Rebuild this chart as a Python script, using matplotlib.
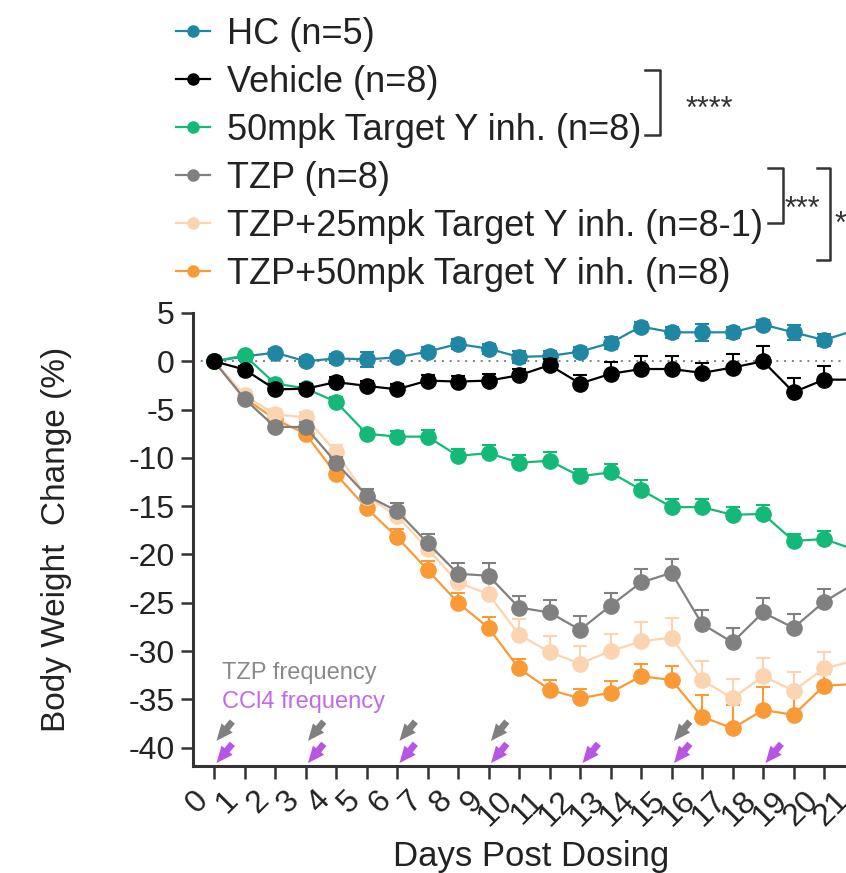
import numpy as np
import matplotlib
matplotlib.use("Agg")
import matplotlib.pyplot as plt
from matplotlib.lines import Line2D

plt.rcParams['font.family'] = ['Liberation Sans', 'DejaVu Sans']
plt.rcParams['axes.unicode_minus'] = False

# data: mean body weight change (%) and SEM per day
days = list(range(22))
hc = [0, 0.5, 0.9, 0.0, 0.3, 0.2, 0.4, 1.0, 1.8, 1.3, 0.45, 0.55, 1.0, 1.9, 3.6, 3.0, 3.0, 3.0, 3.8, 3.0, 2.2, 3.2]
vehicle = [0, -0.85, -2.9, -2.85, -2.15, -2.55, -2.9, -2.0, -2.1, -2.0, -1.45, -0.4, -2.3, -1.3, -0.8, -0.8, -1.2, -0.65, 0.0, -3.2, -1.9, -1.9]
inh50 = [0, 0.6, -2.3, -2.8, -4.2, -7.5, -7.8, -7.8, -9.8, -9.5, -10.5, -10.3, -11.9, -11.5, -13.3, -15.1, -15.1, -15.9, -15.8, -18.6, -18.4, -19.5]
tzp = [0, -3.9, -6.8, -6.8, -10.5, -13.9, -15.5, -18.8, -22.0, -22.2, -25.5, -26.0, -27.8, -25.3, -22.9, -21.9, -27.2, -29.1, -26.0, -27.6, -24.9, -23.0]
tzp_inh25 = [0, -3.5, -5.5, -5.8, -9.4, -14.0, -16.0, -19.4, -22.9, -24.1, -28.3, -30.1, -31.3, -30.0, -29.0, -28.6, -33.0, -34.9, -32.6, -34.1, -31.8, -31.0]
tzp_inh50 = [0, -3.8, -6.0, -7.5, -11.7, -15.2, -18.2, -21.6, -25.0, -27.6, -31.8, -34.0, -34.9, -34.3, -32.6, -33.0, -36.8, -38.0, -36.1, -36.6, -33.6, -33.4]

hc_sem = [0, 0.3, 0.4, 0.4, 0.5, 0.8, 0.4, 0.5, 0.5, 0.5, 0.6, 0.5, 0.5, 0.6, 0.5, 0.6, 0.9, 0.6, 0.5, 0.8, 0.6, 0.6]
vehicle_sem = [0, 0.4, 0.5, 0.5, 0.5, 0.5, 0.5, 0.6, 0.6, 0.7, 0.7, 0.6, 0.9, 1.2, 1.3, 1.3, 1.0, 1.4, 1.6, 1.5, 1.4, 1.4]
inh50_sem = [0, 0.3, 0.4, 0.4, 0.5, 0.5, 0.6, 0.7, 0.7, 0.8, 0.8, 0.9, 0.8, 0.9, 1.0, 0.8, 0.8, 0.8, 0.9, 0.7, 0.8, 0.8]
tzp_sem = [0, 0.4, 0.5, 0.5, 0.6, 0.7, 0.8, 0.9, 1.1, 1.3, 1.2, 1.3, 1.4, 1.3, 1.4, 1.4, 1.4, 1.5, 1.5, 1.4, 1.3, 1.3]
tzp_inh25_sem = [0, 0.5, 0.6, 0.6, 0.7, 0.8, 0.9, 1.0, 1.2, 1.4, 1.6, 1.7, 1.8, 1.8, 2.0, 2.0, 2.0, 2.0, 1.9, 1.9, 1.7, 1.7]
tzp_inh50_sem = [0, 0.4, 0.5, 0.6, 0.7, 0.8, 0.8, 0.9, 1.0, 1.1, 1.0, 1.0, 1.0, 1.2, 1.3, 1.5, 2.2, 2.4, 2.4, 2.3, 1.2, 1.2]

labels = ["HC (n=5)", "Vehicle (n=8)", "50mpk Target Y inh. (n=8)", "TZP (n=8)",
          "TZP+25mpk Target Y inh. (n=8-1)", "TZP+50mpk Target Y inh. (n=8)"]
colors = ["#1f87a3", "#000000", "#14b978", "#808080", "#fdd4b0", "#f99a36"]

tzp_days = [0, 3, 6, 9, 15]
ccl4_days = [0, 3, 6, 9, 12, 15, 18]

W, H = 846, 873
# the axis runs on past the right edge of the picture (cropped chart)
x_left, x_right = -0.69, 23.0
px_day = 30.5
ax_w = (x_right - x_left) * px_day
fig = plt.figure(figsize=(W / 100, H / 100), dpi=100)
ax = fig.add_axes([193 / W, 1 - 766 / H, ax_w / W, (766 - 313) / H])

means = [hc, vehicle, inh50, tzp, tzp_inh25, tzp_inh50]
sems = [hc_sem, vehicle_sem, inh50_sem, tzp_sem, tzp_inh25_sem, tzp_inh50_sem]
zorders = [3, 6, 5, 4, 3.5, 3.2]
for i in range(6):
    m = np.array(means[i])
    s = np.array(sems[i])
    low = s if i == 0 else np.zeros_like(s)
    ax.errorbar(days, m, yerr=[low, s], fmt='none', ecolor=colors[i], elinewidth=1.5,
                capsize=5, capthick=1.5, zorder=zorders[i])
    ax.plot(days, m, '-o', color=colors[i], lw=1.6, ms=11, zorder=zorders[i] + 0.1)

ax.axhline(0, color='#808080', ls=(0, (1, 3)), lw=1.4, zorder=1)

# dosing frequency arrows
arrow_style = 'simple,head_length=0.75,head_width=0.65,tail_width=0.3'
for d in tzp_days:
    ax.annotate('', xy=(d + 0.08, -39.3), xytext=(d + 0.6, -37.3),
                arrowprops=dict(arrowstyle=arrow_style, mutation_scale=16,
                                color='#808080', lw=0, shrinkA=0, shrinkB=0), zorder=2)
for d in ccl4_days:
    ax.annotate('', xy=(d + 0.08, -41.6), xytext=(d + 0.6, -39.6),
                arrowprops=dict(arrowstyle=arrow_style, mutation_scale=16,
                                color='#b955e4', lw=0, shrinkA=0, shrinkB=0), zorder=2)
ax.text(0.25, -32.3, "TZP frequency", color='#8a8a8a', fontsize=17, va='center', ha='left')
ax.text(0.25, -35.3, "CCl4 frequency", color='#c06ae8', fontsize=17, va='center', ha='left')

ax.set_xlim(x_left, x_right)
ax.set_ylim(-41.9, 5)
ax.set_yticks(np.arange(-40, 6, 5))
ax.set_xticks(days)
ax.set_xticklabels([str(d) for d in days], rotation=45, ha='right')
ax.tick_params(axis='both', labelsize=23, width=1.8, length=9, color='#333333', labelcolor='#222222')
ax.tick_params(axis='x', pad=5)
ax.tick_params(axis='y', pad=4)
for side in ['top', 'right']:
    ax.spines[side].set_visible(False)
for side in ['left', 'bottom']:
    ax.spines[side].set_linewidth(2.2)
    ax.spines[side].set_color('#333333')

ax.set_ylabel("Body Weight  Change (%)", fontsize=24, color='#222222')
ax.yaxis.set_label_coords((72 - 193) / ax_w, 0.5)
ax.set_xlabel("Days Post Dosing", fontsize=25, color='#222222')
ax.xaxis.set_label_coords((531 - 193) / ax_w, (766 - 840) / 453)

leg_handles = [Line2D([0], [0], color=c, marker='o', ms=8, lw=1.6) for c in colors]
fig.legend(leg_handles, labels, loc='upper left', bbox_to_anchor=(176 / W, 1 - 17 / H),
           frameon=False, fontsize=26, handlelength=0.95, handletextpad=0.45,
           labelspacing=0.36, borderpad=0, borderaxespad=0, labelcolor='#222222')


# significance brackets (figure pixel positions)
def fx(x):
    return x / W


def fy(y):
    return 1 - y / H


def bracket(x, y0, y1, xl):
    fig.add_artist(Line2D([fx(xl), fx(x), fx(x), fx(xl)], [fy(y0), fy(y0), fy(y1), fy(y1)],
                          color='#333333', lw=1.8))


bracket(660, 70, 135, 645)
bracket(783, 168, 223, 768)
bracket(830, 168, 260, 817)
fig.text(fx(686), fy(118), "****", fontsize=22, color='#333333', va='baseline')
fig.text(fx(785), fy(218), "***", fontsize=22, color='#333333', va='baseline')
fig.text(fx(835), fy(233), "*", fontsize=22, color='#333333', va='baseline')

fig.savefig("out.png", dpi=100)
